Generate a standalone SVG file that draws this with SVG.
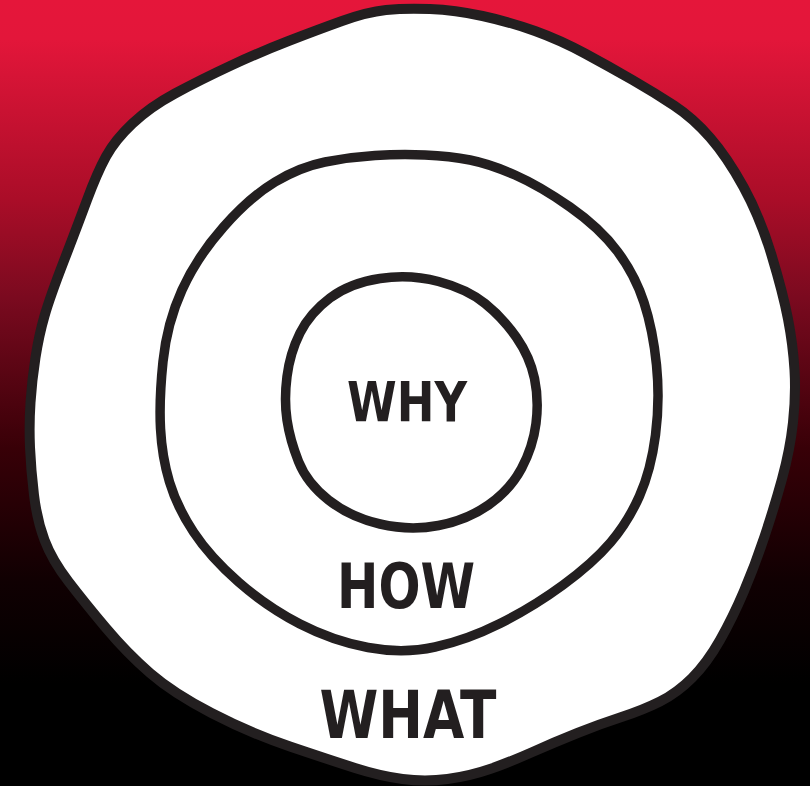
<svg xmlns="http://www.w3.org/2000/svg" width="810" height="786" viewBox="0 0 810 786">
  <defs>
    <linearGradient id="bg" x1="0" y1="0" x2="0" y2="1">
      <stop offset="0" stop-color="#e5163a"/>
      <stop offset="0.05" stop-color="#e3163a"/>
      <stop offset="0.254" stop-color="#aa0d28"/>
      <stop offset="0.38" stop-color="#7a0a1f"/>
      <stop offset="0.57" stop-color="#380007"/>
      <stop offset="0.74" stop-color="#100002"/>
      <stop offset="0.87" stop-color="#000000"/>
      <stop offset="1" stop-color="#000000"/>
    </linearGradient>
    <style>
      .ring { fill: #ffffff; stroke: #231f20; stroke-linejoin: round; }
      .lbl { font-family: "DejaVu Sans", "Liberation Sans", sans-serif; font-weight: bold; fill: #231f20; text-anchor: middle; }
    </style>
  </defs>
  <rect x="0" y="0" width="810" height="786" fill="url(#bg)"/>
  <g id="what">
    <path class="ring" stroke-width="10" d="M386,10 Q405,8 430,9 Q455,10 482.5,16 Q510,22 535,31 Q560,40 585,53.5 Q610,67 632.5,80 Q655,93 674,105.5 Q693,118 710,137.5 Q727,157 743.5,187 Q760,217 771.5,255 Q783,293 788,319 Q793,345 794.5,370 Q796,395 793,422.5 Q790,450 782,479 Q774,508 764.5,536.5 Q755,565 744,591 Q733,617 720,640 Q707,663 692,678 Q677,693 660,701.5 Q643,710 621.5,717 Q600,724 577.5,733 Q555,742 532.5,752 Q510,762 490,769 Q470,776 447.5,779 Q425,782 402.5,779 Q380,776 355,768 Q330,760 290,746.5 Q250,733 211.5,713 Q173,693 150,673 Q127,653 106,628 Q85,603 68.5,581.5 Q52,560 44.5,540 Q37,520 34,495 Q31,470 30,447.5 Q29,425 30.5,402.5 Q32,380 35.5,357.5 Q39,335 44.5,316 Q50,297 63.5,262 Q77,227 87,200 Q97,173 106,156.5 Q115,140 132.5,123.5 Q150,107 175,93.5 Q200,80 230,66 Q260,52 288.5,41 Q317,30 342,21 Q367,12 386,10 Z"/>
    <text class="lbl" x="408" y="738" font-size="66" textLength="177" lengthAdjust="spacingAndGlyphs">WHAT</text>
  </g>
  <g id="how">
    <path class="ring" stroke-width="9.5" d="M375,155.5 Q400,154 425,155 Q450,156 470,160 Q490,164 515,175 Q540,186 570,207 Q600,228 617.5,251.5 Q635,275 644,302.5 Q653,330 656.5,365 Q660,400 655.5,435 Q651,470 639.5,496 Q628,522 610.5,542.5 Q593,563 563,585 Q533,607 500,623.5 Q467,640 435,647 Q403,654 368,647.5 Q333,641 300,624 Q267,607 238.5,582 Q210,557 193.5,532 Q177,507 169.5,482 Q162,457 160.5,428.5 Q159,400 163,361.5 Q167,323 182,290 Q197,257 223.5,227 Q250,197 275,182 Q300,167 325,162 Q350,157 375,155.5 Z"/>
    <text class="lbl" x="406" y="608" font-size="62" textLength="138" lengthAdjust="spacingAndGlyphs">HOW</text>
  </g>
  <g id="why">
    <path class="ring" stroke-width="9.5" d="M380,278.5 Q410,274 438.5,281.5 Q467,289 485,303.5 Q503,318 516.5,337.5 Q530,357 534.5,378.5 Q539,400 536,423.5 Q533,447 521.5,468.5 Q510,490 488.5,505 Q467,520 438.5,525.5 Q410,531 380,524 Q350,517 328.5,500 Q307,483 298.5,461.5 Q290,440 287,420 Q284,400 287,376.5 Q290,353 300,333 Q310,313 330,298 Q350,283 380,278.5 Z"/>
    <text class="lbl" x="407" y="421" font-size="55" textLength="120" lengthAdjust="spacingAndGlyphs">WHY</text>
  </g>
  <g id="connectors"/>
</svg>
